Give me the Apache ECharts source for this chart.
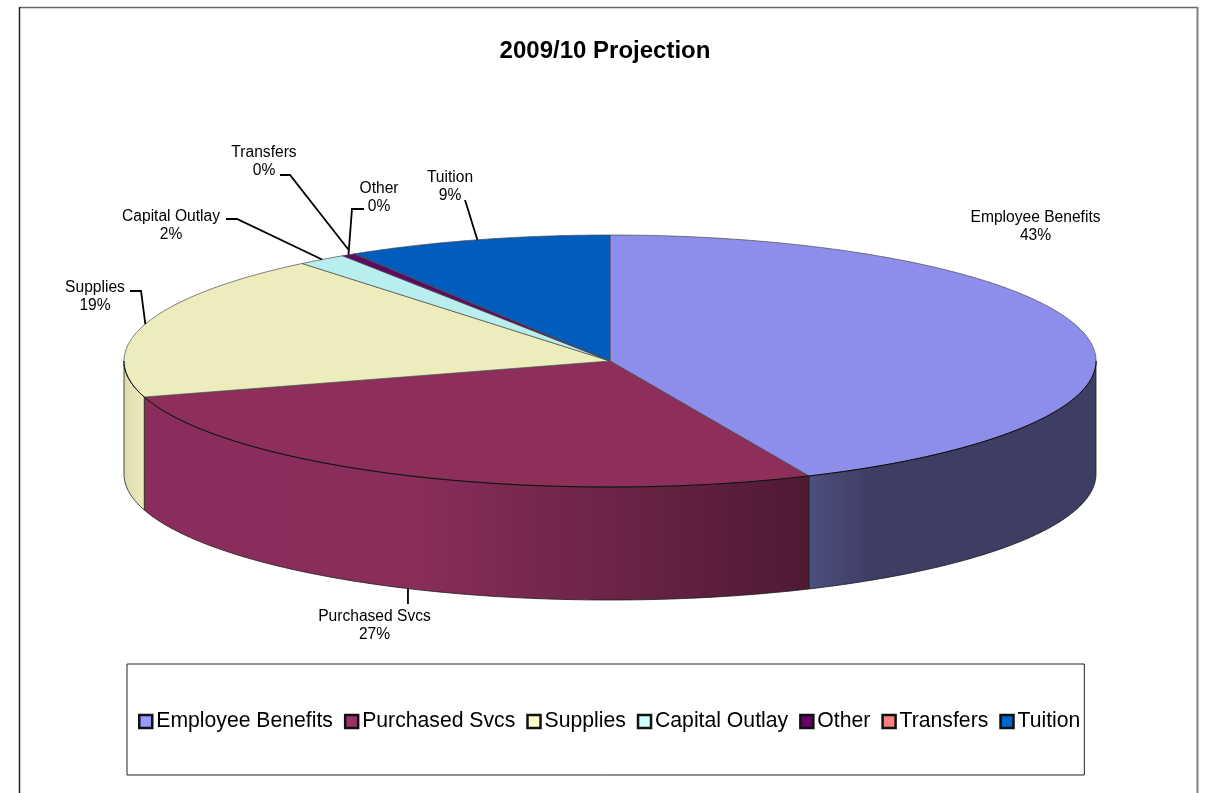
<!DOCTYPE html>
<html><head><meta charset="utf-8">
<style>html,body{margin:0;padding:0;background:#fff}#c{width:1210px;height:793px}</style>
<script src="https://cdn.jsdelivr.net/npm/echarts@6/dist/echarts.min.js"></script>
</head><body><div id="c"></div>
<script>
const categories = ['Employee Benefits','Purchased Svcs','Supplies','Capital Outlay','Other','Transfers','Tuition'];
const values = [43.3, 27.1, 18.7, 1.65, 0.45, 0.02, 8.8];

const legendColors = ['#9999ff','#993366','#ffffcc','#ccffff','#660066','#ff8080','#0066cc'];
const topColors = ['#8d8deb','#8d2e5b','#edecbc','#b9eeee','#5c0a63','#eb7676','#005cbd'];
const sideStops = [
  [[0,'#4c4f80'],[0.22,'#3e3d63'],[1,'#3e3d63']],
  [[0,'#8b2d5c'],[0.4,'#8a2d5b'],[1,'#4e1a33']],
  [[0,'#dfddb0'],[1,'#ecebbc']],
  [[0,'#aadddd'],[1,'#aadddd']],
  [[0,'#4c0852'],[1,'#4c0852']],
  [[0,'#c06060'],[1,'#c06060']],
  [[0,'#004c9c'],[1,'#004c9c']]
];
const sideSpan = [[808,1096],[145,808],[124,145],[0,1],[0,1],[0,1],[0,1]];

const CX = 610, CY = 361, RX = 486, RY = 126, DEPTH = 113;
const labelLayout = [
  {x:1035.5,y:217,elbow:null},
  {x:374.5,y:616,elbow:[[408,604]],shift:[0.4,0]},
  {x:95,y:287,elbow:[[141,291],[130,291]]},
  {x:171,y:216,elbow:[[237,219],[226,219]]},
  {x:379,y:188,elbow:[[352,209],[364,209]]},
  {x:264,y:152,elbow:[[290,175],[280,175]],shift:[-6,-4]},
  {x:450,y:177,elbow:[[465,200]]}
];

const total = values.reduce((a,b)=>a+b,0);
function angleOf(i){ let s=0; for(let k=0;k<i;k++) s+=values[k]; return s/total*Math.PI*2; }
function pt(t,dy){ return [CX+RX*Math.sin(t), CY-RY*Math.cos(t)+(dy||0)]; }
function arc(a,b,dy){ const n=Math.max(2,Math.ceil((b-a)/0.01)); const o=[]; for(let i=0;i<=n;i++) o.push(pt(a+(b-a)*i/n,dy)); return o; }

function renderSlice(params, api){
  const i = params.seriesIndex;
  const a = angleOf(i), b = angleOf(i+1);
  const children = [];
  const fa = Math.max(a, Math.PI/2), fb = Math.min(b, Math.PI*1.5);
  const hasFront = fb > fa;
  if (hasFront) {
    const top = arc(fa,fb,0), bottom = arc(fa,fb,DEPTH).reverse();
    const g = new echarts.graphic.LinearGradient(sideSpan[i][0],0,sideSpan[i][1],0,
      sideStops[i].map(s=>({offset:s[0],color:s[1]})), true);
    children.push({type:'polygon',shape:{points:top.concat(bottom)},
      style:{fill:g,stroke:'#1c1c1c',lineWidth:0.8}});
  }
  children.push({type:'polygon',shape:{points:[[CX,CY]].concat(arc(a,b,0))},
    style:{fill:topColors[i],stroke:'#4a4a4a',lineWidth:0.7}});
  if (hasFront) {
    children.push({type:'polyline',z2:5,shape:{points:arc(fa,fb,0)},
      style:{fill:null,stroke:'#0c0c0c',lineWidth:1}});
  }
  const L = labelLayout[i];
  const mid = (a+b)/2;
  if (L.elbow) {
    const front = mid>Math.PI/2 && mid<Math.PI*1.5;
    const anchor = pt(mid, front?DEPTH:0);
    if (L.shift) { anchor[0]+=L.shift[0]; anchor[1]+=L.shift[1]; }
    children.push({type:'polyline',z2:10,shape:{points:[anchor].concat(L.elbow)},
      style:{fill:null,stroke:'#000',lineWidth:1.8}});
  }
  const pct = Math.round(values[i]/total*100)+'%';
  children.push({type:'text',z2:11,x:L.x,y:L.y-9,
    style:{text:categories[i]+'\n'+pct,align:'center',verticalAlign:'top',fill:'#000',
      font:'15.6px "Liberation Sans", Arial, sans-serif',lineHeight:18.5}});
  return {type:'group',children};
}

const chart = echarts.init(document.getElementById('c'),null,{renderer:'canvas'});
const frame = (x1,y1,x2,y2,stroke,lineWidth)=>({type:'line',silent:true,z:-1,shape:{x1,y1,x2,y2},style:{stroke,lineWidth}});
chart.setOption({
  animation:false,
  backgroundColor:'#fff',
  title:{text:'2009/10 Projection',left:600,top:34,textAlign:'center',
    textStyle:{fontFamily:'"Liberation Sans", Arial, sans-serif',fontSize:24,fontWeight:'bold',color:'#000'}},
  graphic:[
    frame(19.5,7.5,1198,7.5,'#666',1.5),
    frame(19.5,7,19.5,793,'#222',1.5),
    frame(1197.5,7,1197.5,793,'#808080',2)
  ],
  legend:{
    left:127,top:664,orient:'horizontal',selectedMode:false,
    padding:[47,4,43,11],borderColor:'#222',borderWidth:1,
    itemWidth:13,itemHeight:13,itemGap:11,icon:'rect',
    itemStyle:{borderColor:'#111',borderWidth:2.5},
    textStyle:{fontFamily:'"Liberation Sans", Arial, sans-serif',fontSize:21.2,color:'#000',padding:[0,0,0,-1]},
    data:categories
  },
  series:categories.map((name,i)=>({
    type:'custom',name,coordinateSystem:'none',silent:true,
    itemStyle:{color:legendColors[i]},
    renderItem:renderSlice,
    data:[[values[i]]]
  }))
});
</script></body></html>
